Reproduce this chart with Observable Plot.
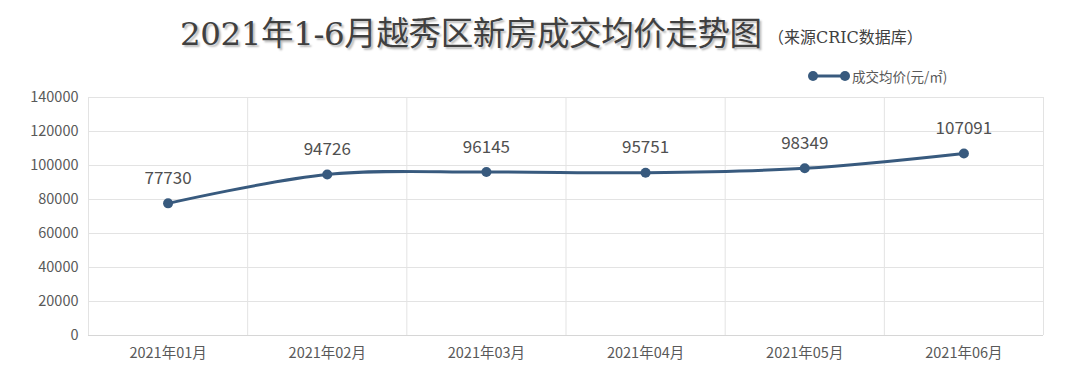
<!DOCTYPE html>
<html><head><meta charset="utf-8">
<script src="https://cdn.jsdelivr.net/npm/d3@7"></script>
<script src="https://cdn.jsdelivr.net/npm/@observablehq/plot@0.6"></script>
<style>
body{margin:0;background:#fff;font-family:"Noto Sans CJK SC","Open Sans",sans-serif;}
#wrap{position:relative;width:1080px;height:378px;overflow:hidden;}
#title{position:absolute;left:0;top:0;width:1080px;height:60px;}
#title .main{position:absolute;left:180px;top:13px;font-family:"DejaVu Serif","Noto Sans CJK SC",serif;font-size:32.5px;color:#404040;text-shadow:2px 2px 2px #bbb;letter-spacing:-0.4px;line-height:42px;white-space:nowrap;}
#title .sub{position:absolute;left:768px;top:28px;font-family:"DejaVu Serif","Noto Sans CJK SC",serif;font-size:16px;color:#404040;line-height:20px;letter-spacing:0px;white-space:nowrap;}
#legend{position:absolute;left:806px;top:66px;font-size:13.5px;color:#595959;display:flex;align-items:center;}
#legend svg{margin-right:2px;}
</style></head>
<body><div id="wrap">
<div id="title"><span class="main"></span><span class="sub"></span></div>
<div id="legend"></div>
<div id="chart"></div>
</div>
<script>
const titleText = "2021年1-6月越秀区新房成交均价走势图";
const subtitleText = "（来源CRIC数据库）";
const seriesName = "成交均价(元/㎡)";
const months = ["2021年01月","2021年02月","2021年03月","2021年04月","2021年05月","2021年06月"];
const prices = [77730, 94726, 96145, 95751, 98349, 107091];
const yTicks = [0,20000,40000,60000,80000,100000,120000,140000];

document.querySelector("#title .main").textContent = titleText;
document.querySelector("#title .sub").textContent = subtitleText;

const color = "#385a7e";
const lg = document.getElementById("legend");
lg.innerHTML = `<svg width="44" height="14"><line x1="7" y1="7" x2="39" y2="7" stroke="${color}" stroke-width="3"/><circle cx="7" cy="7" r="5" fill="${color}"/><circle cx="39" cy="7" r="5" fill="${color}"/></svg><span>${seriesName}</span>`;

const data = months.map((m,i)=>({i, m, v: prices[i]}));
const bounds = d3.range(months.length+1).map(k=>k-0.5);

const chart = Plot.plot({
  width:1080, height:378,
  marginLeft:88, marginRight:37, marginTop:97, marginBottom:43,
  style:{fontFamily:"'Noto Sans CJK SC','Open Sans',sans-serif", fontSize:"14.5px", color:"#595959", background:"transparent"},
  x:{domain:[-0.5, months.length-0.5], ticks:d3.range(months.length), tickFormat:i=>months[i], tickSize:0, tickPadding:12, label:null},
  y:{domain:[0,140000], ticks:yTicks, tickFormat:d=>String(d), tickSize:0, tickPadding:10, label:null},
  marks:[
    Plot.ruleY(yTicks.filter(d=>d>0), {stroke:"#e3e3e3", strokeWidth:1}),
    Plot.ruleX(bounds, {stroke:"#e3e3e3", strokeWidth:1}),
    Plot.ruleY([0], {stroke:"#d6d6d6", strokeWidth:1}),
    Plot.line(data, {x:"i", y:"v", stroke:color, strokeWidth:3, curve:"catmull-rom"}),
    Plot.dot(data, {x:"i", y:"v", r:5, fill:color}),
    Plot.text(data, {x:"i", y:"v", text:d=>String(d.v), dy:-25, fontSize:17, fill:"#505050"})
  ]
});
document.getElementById("chart").appendChild(chart);
</script>
</body></html>
